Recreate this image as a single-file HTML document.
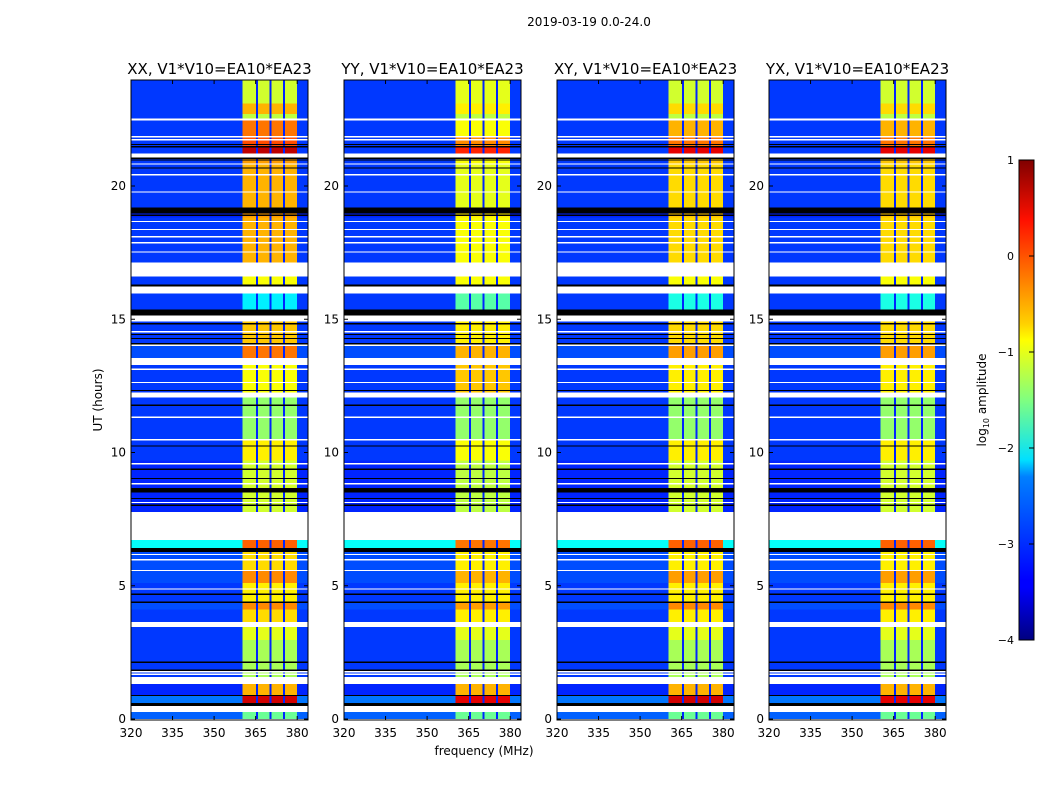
<!DOCTYPE html>
<html><head><meta charset="utf-8">
<style>
body{margin:0;background:#fff;}
svg{display:block;font-family:"DejaVu Sans","Liberation Sans",sans-serif;}
</style></head>
<body>
<svg id="fig" width="1050" height="800" viewBox="0 0 1050 800">
<defs>
<linearGradient id="jet" x1="0" y1="1" x2="0" y2="0">
<stop offset="0" stop-color="#000080"/><stop offset="0.11" stop-color="#0000ff"/>
<stop offset="0.125" stop-color="#0000ff"/><stop offset="0.34" stop-color="#0080ff"/>
<stop offset="0.375" stop-color="#00e0ff"/><stop offset="0.5" stop-color="#80ff80"/>
<stop offset="0.625" stop-color="#ffff00"/><stop offset="0.66" stop-color="#ffd000"/>
<stop offset="0.875" stop-color="#ff1000"/><stop offset="1" stop-color="#800000"/>
</linearGradient>
</defs>
<text x="589" y="26" font-size="12" text-anchor="middle">2019-03-19 0.0-24.0</text>
<text x="484" y="755" font-size="12" text-anchor="middle">frequency (MHz)</text>
<text x="102" y="400" font-size="12" text-anchor="middle" transform="rotate(-90 102 400)">UT (hours)</text>
<g id="panels"></g>
<g id="cbar"></g>
</svg>
<script>
// ---- data ----
const panelTitles = ["XX, V1*V10=EA10*EA23","YY, V1*V10=EA10*EA23","XY, V1*V10=EA10*EA23","YX, V1*V10=EA10*EA23"];
const panelLeft = [131,344,557,769];
const xTicks = [320,335,350,365,380];
const yTicks = [0,5,10,15,20];
const cbTicks = [1,0,-1,-2,-3,-4];
const subbands = [[360.3,365.4],[365.4,370.3],[370.3,375.3],[375.3,380]];
// time segments: [tStart, tEnd] (hours)
const segStart = [0,0.6,0.86,1.57,2.1,2.96,3.64,4.1,4.4,5.1,5.6,6.41,7.76,9.7,10.5,12.26,13.54,14.0,15.37,16.3,17.13,18.82,19.2,20.8,21.22,21.45,21.82,22.54,22.7,23.1];
const segEnd   = [0.26,0.86,1.31,2.1,2.96,3.45,4.1,4.35,5.1,5.55,6.26,6.71,9.7,10.45,12.07,13.28,14.0,14.92,15.97,16.6,18.82,18.97,20.8,21.07,21.45,21.82,22.46,22.7,23.1,24];
// log10 amplitude inside the bright band (per panel)
const bandXX = [-1.6,0.6,-0.5,-1.3,-1.3,-1.0,-0.7,-0.3,-0.8,-0.3,-0.7,-0.1,-1.1,-0.8,-1.4,-0.9,-0.2,-0.6,-2.2,-0.9,-0.5,-0.4,-0.5,-0.4,0.7,0.0,-0.2,-1.2,-0.5,-1.1];
const bandYY = [-1.6,0.5,-0.5,-1.3,-1.3,-1.0,-0.8,-0.4,-0.8,-0.5,-0.8,-0.2,-1.2,-0.9,-1.4,-0.6,-0.5,-0.8,-1.7,-0.9,-0.9,-0.8,-1.0,-0.9,0.2,-0.3,-0.9,-1.2,-0.8,-1.0];
const bandXY = [-1.6,0.6,-0.5,-1.3,-1.3,-1.0,-0.8,-0.3,-0.8,-0.4,-0.8,-0.1,-1.1,-0.8,-1.4,-0.8,-0.4,-0.7,-2.0,-0.9,-0.7,-0.6,-0.7,-0.6,0.5,-0.2,-0.5,-1.2,-0.7,-1.1];
const bandYX = [-1.6,0.5,-0.5,-1.3,-1.3,-1.0,-0.8,-0.3,-0.8,-0.4,-0.8,-0.1,-1.1,-0.8,-1.4,-0.8,-0.4,-0.7,-2.0,-0.9,-0.7,-0.6,-0.7,-0.6,0.5,-0.2,-0.5,-1.2,-0.7,-1.1];
const bandLevels = [bandXX,bandYY,bandXY,bandYX];
const bgLevel = [-2.9,-2.8,-3.2,-3.1,-3.1,-3.1,-3.1,-3.0,-3.1,-3.0,-3.0,-2.1,-3.2,-3.1,-3.1,-3.1,-3.0,-3.1,-3.1,-3.1,-3.1,-3.2,-3.1,-3.1,-3.1,-3.1,-3.1,-3.1,-3.1,-3.1];
// flagged intervals
const whiteStart = [0.26,1.31,1.65,1.75,3.45,4.85,5.55,5.95,6.15,6.71,8.1,8.8,9.55,10.45,11.3,12.07,12.6,13.1,13.28,14.0,14.5,14.92,15.97,16.6,17.5,17.85,18.07,18.34,18.64,19.75,20.4,20.8,21.07,21.71,21.82,22.46];
const whiteEnd   = [0.49,1.57,1.7,1.8,3.64,4.9,5.6,6.0,6.2,7.76,8.15,8.85,9.6,10.5,11.35,12.26,12.65,13.15,13.54,14.05,14.55,15.15,16.2,17.13,17.55,17.9,18.12,18.39,18.69,19.8,20.45,20.85,21.22,21.76,21.87,22.54];
const blackStart = [0.49,0.86,2.1,1.8,4.35,4.65,6.26,8.0,8.25,8.5,9.0,9.35,10.22,11.75,12.3,14.05,14.25,14.4,14.8,15.15,16.23,18.88,18.97,20.65,20.95,21.02,21.45,21.53];
const blackEnd   = [0.6,0.9,2.15,1.85,4.4,4.7,6.41,8.05,8.3,8.66,9.05,9.4,10.27,11.8,12.35,14.1,14.3,14.45,14.85,15.37,16.3,18.93,19.2,20.7,21.0,21.07,21.5,21.58];

// ---- helpers ----
const NS="http://www.w3.org/2000/svg";
const yTop=80, yBot=720, pw=177;
function yScale(h){return 719-(h)*26.65;}
function xScale(i,f){return panelLeft[i]+(f-320)*2.77;}
function jet(v){
  let x=Math.max(0,Math.min(1,(v+4)/5));
  const c=t=>Math.round(255*Math.max(0,Math.min(1,1.5-Math.abs(4*x-t))));
  return `rgb(${c(3)},${c(2)},${c(1)})`;
}
function mk(tag,attrs,parent){const e=document.createElementNS(NS,tag);for(const k in attrs)e.setAttribute(k,attrs[k]);parent.appendChild(e);return e;}

const root=document.getElementById('panels');
for(let p=0;p<4;p++){
  const g=mk('g',{},root);
  
  
  const L=panelLeft[p];
  mk('rect',{x:L,y:yTop,width:pw,height:yBot-yTop,fill:'#fff'},g);
  const clip=mk('g',{'shape-rendering':'crispEdges'},g);
  for(let s=0;s<segStart.length;s++){
    const y1=yScale(segEnd[s]), y2=yScale(segStart[s]);
    const bg=mk('rect',{x:L,y:y1,width:pw,height:y2-y1,fill:jet(bgLevel[s])},clip);
    
    
    for(let b=0;b<subbands.length;b++){
      const x1=xScale(p,subbands[b][0]), x2=xScale(p,subbands[b][1]);
      const r=mk('rect',{x:x1,y:y1,width:x2-x1,height:y2-y1,fill:jet(bandLevels[p][s])},clip);
      
      
      if(b>0){
        const d=mk('rect',{x:x1-1,y:y1,width:2,height:y2-y1,fill:jet(-3.2)},clip);
        
        
      }
    }
  }
  for(let k=0;k<whiteStart.length;k++){
    const y1=yScale(whiteEnd[k]),y2=yScale(whiteStart[k]);
    const r=mk('rect',{x:L,y:y1,width:pw,height:Math.max(1.2,y2-y1),fill:'#fff'},clip);
    
    
  }
  for(let k=0;k<blackStart.length;k++){
    const y1=yScale(blackEnd[k]),y2=yScale(blackStart[k]);
    const r=mk('rect',{x:L,y:y1,width:pw,height:Math.max(1.2,y2-y1),fill:'#000'},clip);
    
    
  }
  mk('rect',{x:L,y:yTop,width:pw,height:yBot-yTop,fill:'none',stroke:'#000','stroke-width':1},g);
  const t=mk('text',{x:L+pw/2,y:74,'font-size':15,'text-anchor':'middle'},g);
  t.textContent=panelTitles[p];
  
  
  for(const v of xTicks){
    const x=xScale(p,v);
    mk('line',{x1:x,x2:x,y1:yBot,y2:yBot-4,stroke:'#000'},g);
    mk('line',{x1:x,x2:x,y1:yTop,y2:yTop+4,stroke:'#000'},g);
    const tx=mk('text',{x:x,y:737,'font-size':12,'text-anchor':'middle'},g);
    tx.textContent=v;
    
    
  }
  for(const v of yTicks){
    const y=yScale(v);
    mk('line',{x1:L,x2:L+4,y1:y,y2:y,stroke:'#000'},g);
    mk('line',{x1:L+pw,x2:L+pw-4,y1:y,y2:y,stroke:'#000'},g);
    const ty=mk('text',{x:L-5,y:y+4,'font-size':12,'text-anchor':'end'},g);
    ty.textContent=v;
    
    
  }
}
// colorbar
const cb=document.getElementById('cbar');
const cbTop=160, cbBot=640;
mk('rect',{x:1019,y:cbTop,width:15,height:cbBot-cbTop,fill:'url(#jet)',stroke:'#000','stroke-width':1},cb);
for(const v of cbTicks){
  const y=cbBot-(v+4)*(cbBot-cbTop)/5;
  mk('line',{x1:1029,x2:1034,y1:y,y2:y,stroke:'#000'},cb);
  const t=mk('text',{x:1014,y:y+4,'font-size':11,'text-anchor':'end'},cb);
  t.textContent=v<0?'\u2212'+(-v):String(v);
  
  
}
const cl=mk('text',{x:986,y:400,'font-size':12,'text-anchor':'middle',transform:'rotate(-90 986 400)'},cb);
cl.innerHTML='log<tspan font-size="8" dy="3">10</tspan><tspan dy="-3"> amplitude</tspan>';


</script>
</body></html>
